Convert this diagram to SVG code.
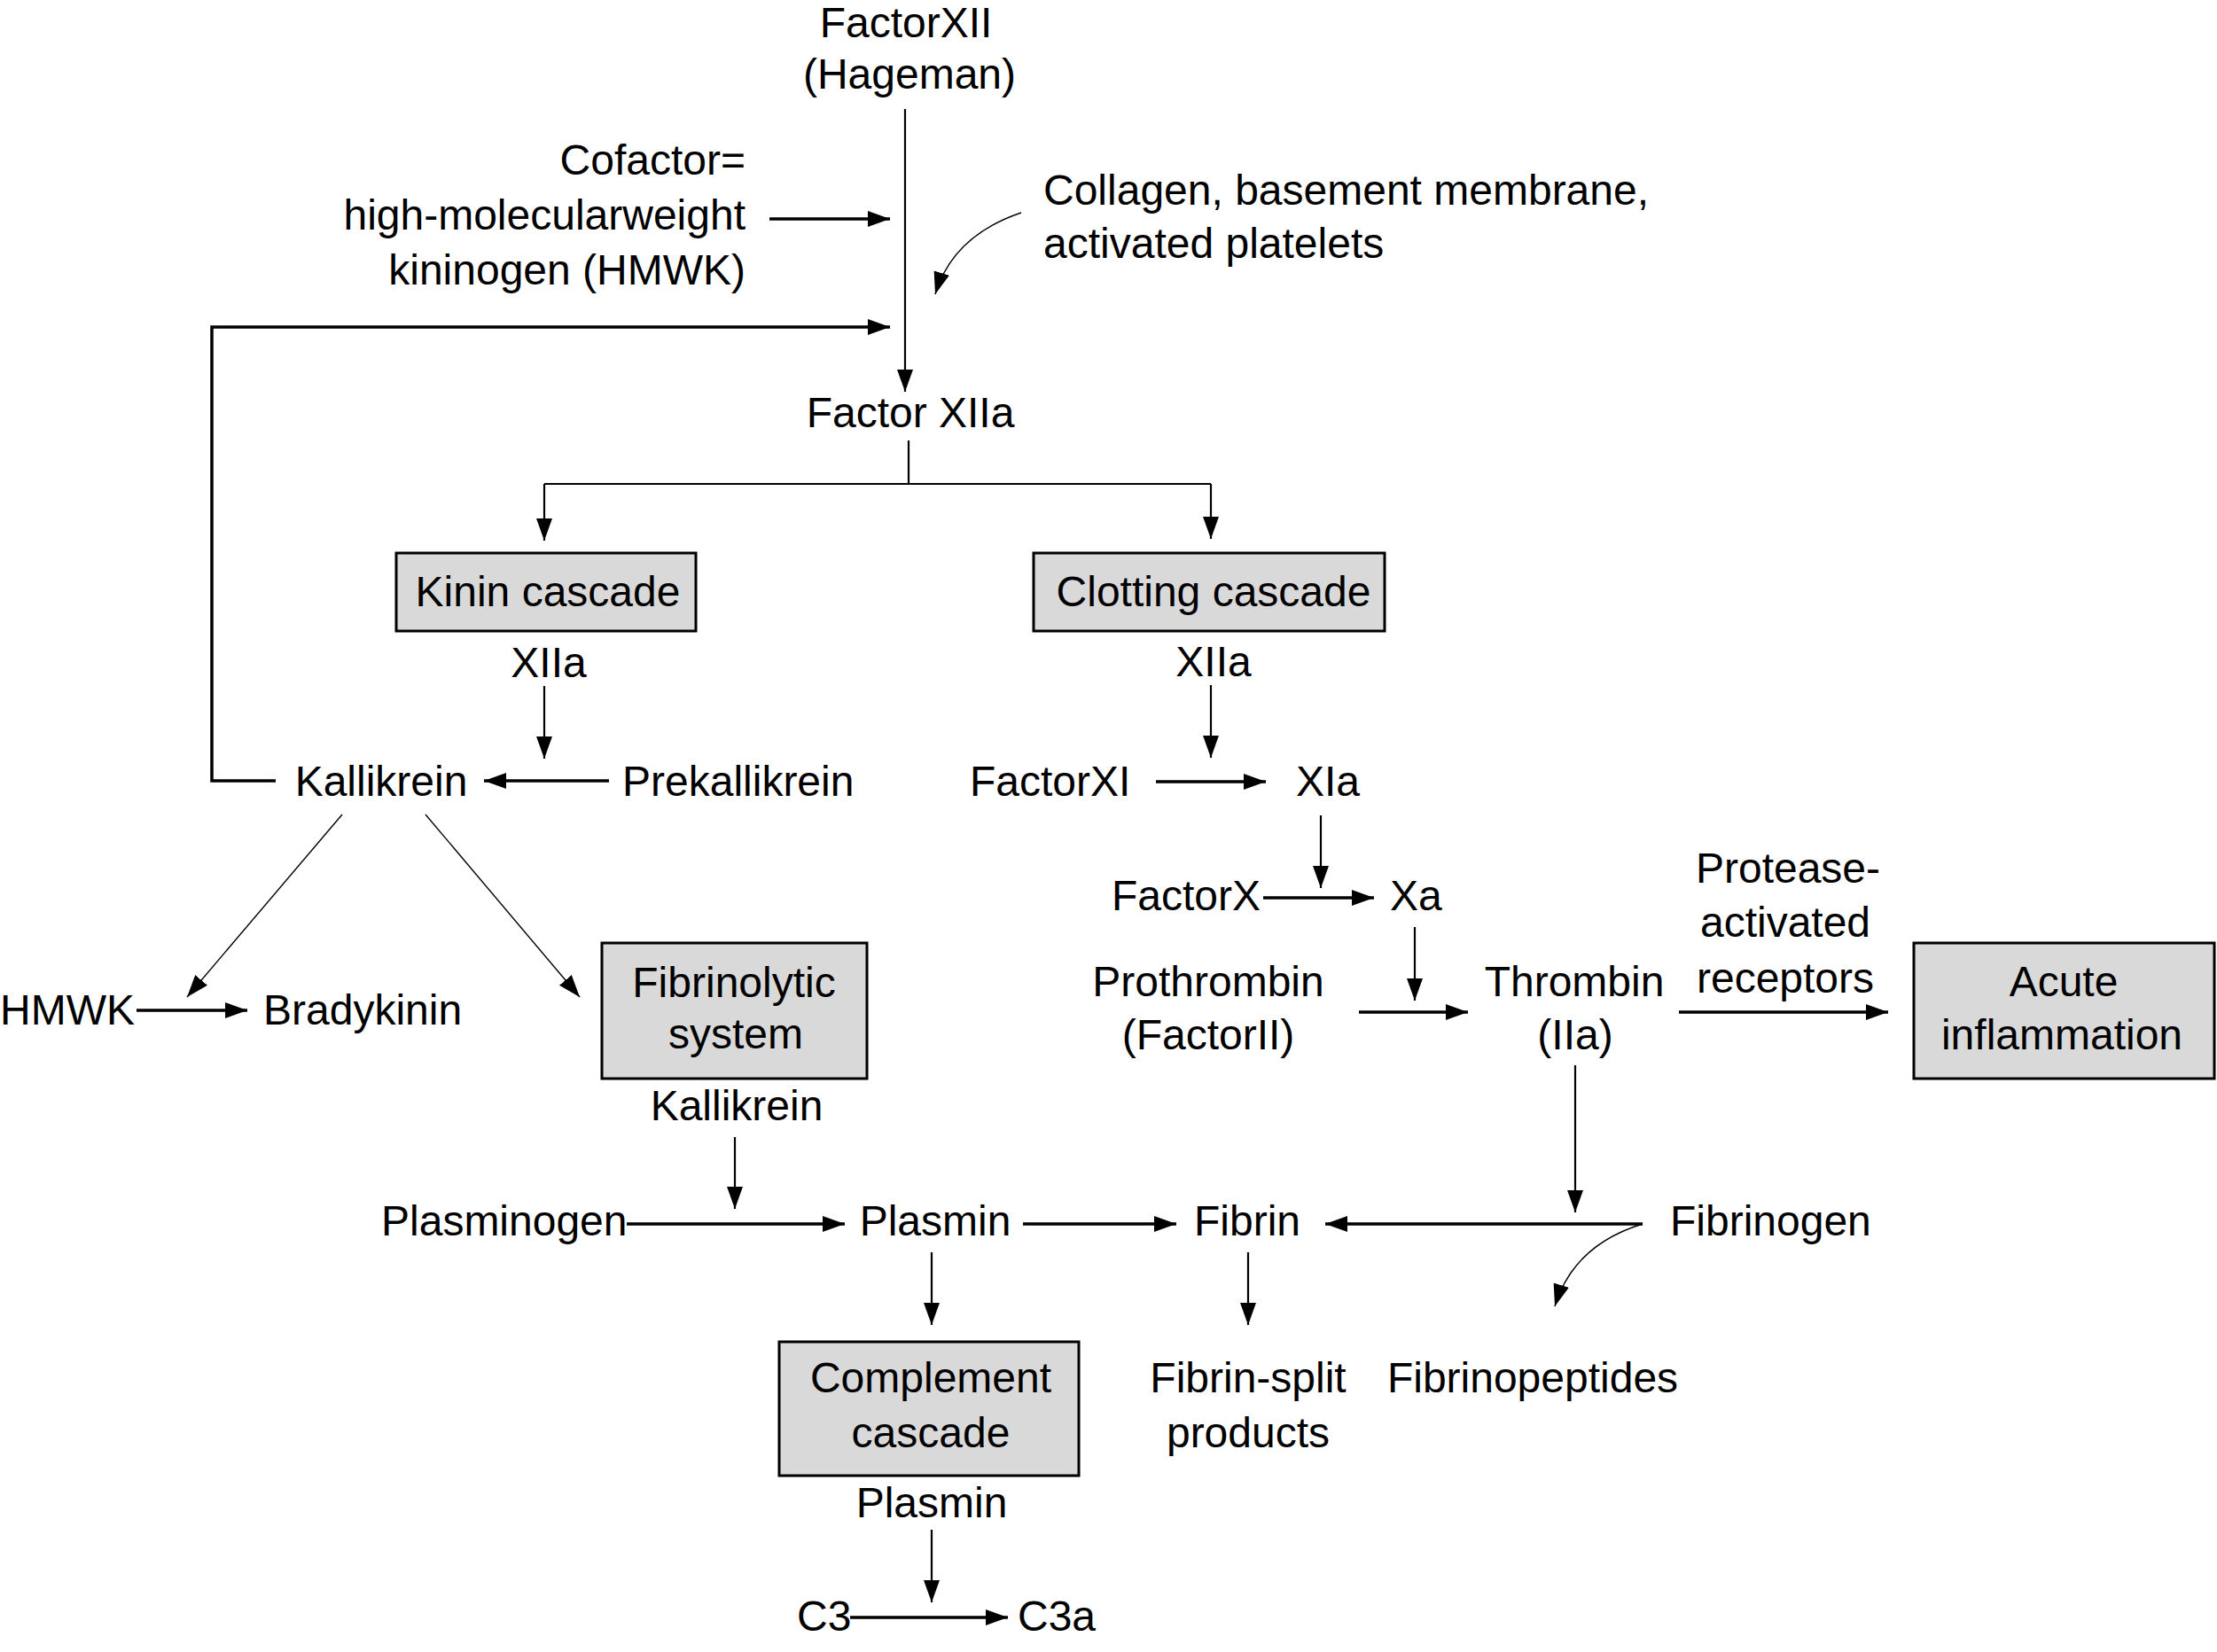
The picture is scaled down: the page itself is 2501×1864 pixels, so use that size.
<svg xmlns="http://www.w3.org/2000/svg" width="2501" height="1864" viewBox="0 0 2501 1864">
<style>
text{font-family:"Liberation Sans",Arial,sans-serif;font-size:48px;fill:#000}
.m{text-anchor:middle}.e{text-anchor:end}
.box{fill:#d9d9d9;stroke:#000;stroke-width:3}
.c path{fill:none;stroke:#000}
.t{stroke-width:2.2}.k{stroke-width:3.5}.h{stroke-width:1.4}
</style>
<defs>
<marker id="a" markerUnits="userSpaceOnUse" markerWidth="26" markerHeight="20" refX="25" refY="9" orient="auto"><path d="M0,0 L25,9 L0,18 z" fill="#000"/></marker>
</defs>
<g id="connectors" class="c">
<path class="t" d="M1021,123 V442" marker-end="url(#a)"/>
<path class="k" d="M868,247 H1004" marker-end="url(#a)"/>
<path class="h" d="M1152,240 Q1075,266 1055,332" marker-end="url(#a)"/>
<path class="k" d="M311,881 H239 V369 H1004" marker-end="url(#a)"/>
<path class="t" d="M1025,497 V546 M614,546 H1366"/>
<path class="t" d="M614,546 V610" marker-end="url(#a)"/>
<path class="t" d="M1366,546 V608" marker-end="url(#a)"/>
<path class="t" d="M614,774 V856" marker-end="url(#a)"/>
<path class="t" d="M1366,773 V855" marker-end="url(#a)"/>
<path class="k" d="M687,881 H546" marker-end="url(#a)"/>
<path class="k" d="M1304,882 H1428" marker-end="url(#a)"/>
<path class="t" d="M1490,920 V1002" marker-end="url(#a)"/>
<path class="k" d="M1425,1013 H1550" marker-end="url(#a)"/>
<path class="t" d="M1596,1046 V1129" marker-end="url(#a)"/>
<path class="k" d="M1533,1142 H1656" marker-end="url(#a)"/>
<path class="k" d="M1894,1142 H2130" marker-end="url(#a)"/>
<path class="t" d="M1777,1202 V1368" marker-end="url(#a)"/>
<path class="k" d="M1853,1381 H1495" marker-end="url(#a)"/>
<path class="h" d="M1853,1381 Q1775,1405 1754,1474" marker-end="url(#a)"/>
<path class="h" d="M386,919 L211,1125" marker-end="url(#a)"/>
<path class="h" d="M480,919 L654,1125" marker-end="url(#a)"/>
<path class="k" d="M154,1140 H279" marker-end="url(#a)"/>
<path class="t" d="M829,1283 V1364" marker-end="url(#a)"/>
<path class="k" d="M707,1381 H953" marker-end="url(#a)"/>
<path class="k" d="M1154,1381 H1327" marker-end="url(#a)"/>
<path class="t" d="M1051,1413 V1495" marker-end="url(#a)"/>
<path class="t" d="M1408,1413 V1495" marker-end="url(#a)"/>
<path class="t" d="M1051,1726 V1808" marker-end="url(#a)"/>
<path class="k" d="M959,1825 H1137" marker-end="url(#a)"/>
</g>
<g id="factorXII"><text class="m" x="1022" y="42">FactorXII</text><text class="m" x="1026" y="100">(Hageman)</text></g>
<g id="cofactor"><text class="e" x="841" y="197">Cofactor=</text><text class="e" x="841" y="259">high-molecularweight</text><text class="e" x="841" y="321">kininogen (HMWK)</text></g>
<g id="collagen"><text x="1177" y="231">Collagen, basement membrane,</text><text x="1177" y="291">activated platelets</text></g>
<g id="factorXIIa"><text class="m" x="1027" y="482">Factor XIIa</text></g>
<g id="kinin"><rect class="box" x="447" y="624" width="338" height="88"/><text class="m" x="618" y="684">Kinin cascade</text></g>
<g id="clotting"><rect class="box" x="1166" y="624" width="396" height="88"/><text class="m" x="1369" y="684">Clotting cascade</text></g>
<g id="xiia1"><text class="m" x="619" y="764">XIIa</text></g>
<g id="xiia2"><text class="m" x="1369" y="763">XIIa</text></g>
<g id="kallikrein"><text class="m" x="430" y="898">Kallikrein</text></g>
<g id="prekallikrein"><text x="702" y="898">Prekallikrein</text></g>
<g id="factorXI"><text x="1094" y="898">FactorXI</text></g>
<g id="xia"><text x="1462" y="898">XIa</text></g>
<g id="factorX"><text x="1254" y="1027">FactorX</text></g>
<g id="xa"><text x="1568" y="1027">Xa</text></g>
<g id="prothrombin"><text class="m" x="1363" y="1124">Prothrombin</text><text class="m" x="1363" y="1184">(FactorII)</text></g>
<g id="thrombin"><text class="m" x="1776" y="1124">Thrombin</text><text class="m" x="1777" y="1184">(IIa)</text></g>
<g id="protease"><text class="m" x="2017" y="996">Protease-</text><text class="m" x="2014" y="1057">activated</text><text class="m" x="2014" y="1120">receptors</text></g>
<g id="acute"><rect class="box" x="2159" y="1064" width="339" height="153"/><text class="m" x="2328" y="1124">Acute</text><text class="m" x="2326" y="1184">inflammation</text></g>
<g id="hmwk"><text x="0" y="1156">HMWK</text></g>
<g id="bradykinin"><text x="297" y="1156">Bradykinin</text></g>
<g id="fibrinolytic"><rect class="box" x="679" y="1064" width="299" height="153"/><text class="m" x="828" y="1125">Fibrinolytic</text><text class="m" x="830" y="1183">system</text></g>
<g id="kallikrein2"><text class="m" x="831" y="1264">Kallikrein</text></g>
<g id="plasminogen"><text x="430" y="1394">Plasminogen</text></g>
<g id="plasmin"><text class="m" x="1055" y="1394">Plasmin</text></g>
<g id="fibrin"><text class="m" x="1407" y="1394">Fibrin</text></g>
<g id="fibrinogen"><text x="1884" y="1394">Fibrinogen</text></g>
<g id="complement"><rect class="box" x="879" y="1514" width="338" height="151"/><text class="m" x="1050" y="1571">Complement</text><text class="m" x="1050" y="1633">cascade</text></g>
<g id="fibrinsplit"><text class="m" x="1408" y="1571">Fibrin-split</text><text class="m" x="1408" y="1633">products</text></g>
<g id="fibrinopeptides"><text class="m" x="1729" y="1571">Fibrinopeptides</text></g>
<g id="plasmin2"><text class="m" x="1051" y="1712">Plasmin</text></g>
<g id="c3"><text x="899" y="1840">C3</text></g>
<g id="c3a"><text x="1148" y="1840">C3a</text></g>
</svg>
